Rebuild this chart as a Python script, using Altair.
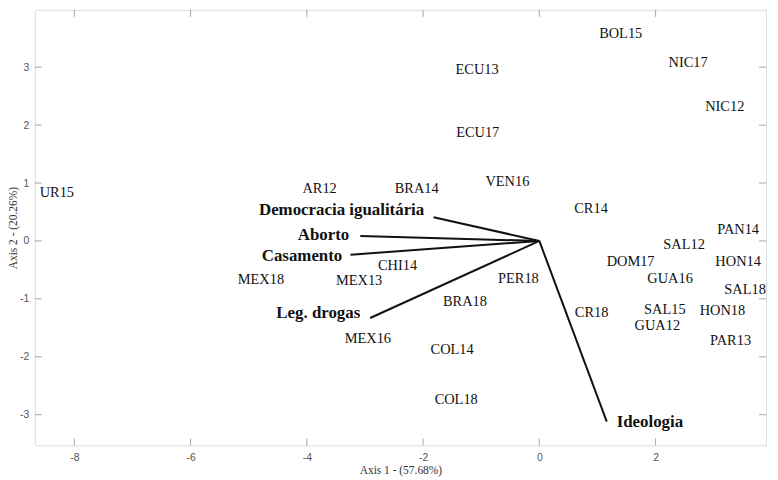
import altair as alt
import pandas as pd

# Country-year scores (Axis 1, Axis 2)
countries = ["UR15", "AR12", "BRA14", "VEN16", "ECU13", "ECU17", "BOL15", "NIC17", "NIC12",
             "CR14", "PAN14", "SAL12", "HON14", "DOM17", "GUA16", "SAL18", "CR18", "SAL15",
             "HON18", "GUA12", "PAR13", "PER18", "BRA18", "CHI14", "MEX13", "MEX18", "MEX16",
             "COL14", "COL18"]
axis1 = [-8.30, -3.78, -2.11, -0.55, -1.07, -1.06, 1.40, 2.56, 3.19,
         0.89, 3.42, 2.49, 3.42, 1.57, 2.25, 3.54, 0.90, 2.16,
         3.15, 2.03, 3.29, -0.36, -1.28, -2.44, -3.10, -4.79, -2.95,
         -1.50, -1.43]
axis2 = [0.82, 0.90, 0.90, 1.01, 2.95, 1.87, 3.58, 3.08, 2.32,
         0.55, 0.19, -0.07, -0.36, -0.37, -0.66, -0.85, -1.24, -1.19,
         -1.21, -1.47, -1.72, -0.65, -1.06, -0.43, -0.70, -0.68, -1.70,
         -1.89, -2.74]

# Variable loadings (vector ends)
variables = ["Democracia igualitária", "Aborto", "Casamento", "Leg. drogas", "Ideologia"]
load1 = [-1.82, -3.08, -3.25, -2.91, 1.16]
load2 = [0.41, 0.085, -0.24, -1.33, -3.12]
# Variable label anchors
lab1 = [-1.98, -3.27, -3.39, -3.08, 1.33]
lab2 = [0.53, 0.10, -0.26, -1.24, -3.12]
lab_align = ["right", "right", "right", "right", "left"]

x_ticks = [-8, -6, -4, -2, 0, 2]
y_ticks = [-3, -2, -1, 0, 1, 2, 3]

x_domain = [-8.68, 3.90]
y_domain = [-3.53, 3.99]

W, H = 737, 439
FRAME = "#a6a6a6"
TL = 7

pts = pd.DataFrame({"name": countries, "a1": axis1, "a2": axis2})
vec = pd.DataFrame({"var": variables, "x0": [0.0] * 5, "y0": [0.0] * 5,
                    "x1": load1, "y1": load2, "lx": lab1, "ly": lab2, "al": lab_align})
xt = pd.DataFrame({"v": x_ticks})
yt = pd.DataFrame({"v": y_ticks})

xs = alt.Scale(domain=x_domain, nice=False, zero=False)
ys = alt.Scale(domain=y_domain, nice=False, zero=False)

x_axis = alt.Axis(values=x_ticks, labelExpr="datum.value + ''", ticks=False, domain=False,
                  grid=False, labelFont="Liberation Sans", labelFontSize=10.5,
                  labelColor="#555555", labelPadding=7, title="Axis 1 - (57.68%)",
                  titleFont="Liberation Serif", titleFontSize=11.5, titleFontWeight="normal",
                  titleColor="#333333", titleY=25, titleBaseline="middle")
y_axis = alt.Axis(values=y_ticks, labelExpr="datum.value + ''", ticks=False, domain=False,
                  grid=False, labelFont="Liberation Sans", labelFontSize=10.5,
                  labelColor="#555555", labelPadding=6, title="Axis 2 - (20.26%)",
                  titleFont="Liberation Serif", titleFontSize=11.5, titleFontWeight="normal",
                  titleColor="#333333", titleX=-16)

base_pts = alt.Chart(pts).mark_text(font="Liberation Serif", fontSize=14.5, color="#111111",
                                    align="center", baseline="middle").encode(
    x=alt.X("a1:Q", scale=xs, axis=x_axis),
    y=alt.Y("a2:Q", scale=ys, axis=y_axis),
    text="name:N",
)

lines = alt.Chart(vec).mark_rule(color="#111111", strokeWidth=2).encode(
    x=alt.X("x0:Q", scale=xs), y=alt.Y("y0:Q", scale=ys),
    x2="x1:Q", y2="y1:Q",
)

vec_right = alt.Chart(vec).transform_filter(alt.datum.al == "right").mark_text(
    font="Liberation Serif", fontSize=17, fontWeight="bold", color="#111111",
    align="right", baseline="middle").encode(
    x=alt.X("lx:Q", scale=xs), y=alt.Y("ly:Q", scale=ys), text="var:N")

vec_left = alt.Chart(vec).transform_filter(alt.datum.al == "left").mark_text(
    font="Liberation Serif", fontSize=17, fontWeight="bold", color="#111111",
    align="left", baseline="middle").encode(
    x=alt.X("lx:Q", scale=xs), y=alt.Y("ly:Q", scale=ys), text="var:N")

tick_style = dict(color=FRAME, strokeWidth=1)
bt = alt.Chart(xt).mark_rule(**tick_style).encode(
    x=alt.X("v:Q", scale=xs), y=alt.value(H), y2=alt.value(H - TL))
tt = alt.Chart(xt).mark_rule(**tick_style).encode(
    x=alt.X("v:Q", scale=xs), y=alt.value(0), y2=alt.value(TL))
lt = alt.Chart(yt).mark_rule(**tick_style).encode(
    y=alt.Y("v:Q", scale=ys), x=alt.value(0), x2=alt.value(TL))
rt = alt.Chart(yt).mark_rule(**tick_style).encode(
    y=alt.Y("v:Q", scale=ys), x=alt.value(W), x2=alt.value(W - TL))

chart = alt.layer(bt, tt, lt, rt, lines, base_pts, vec_right, vec_left).properties(
    width=W, height=H,
    autosize=alt.AutoSizeParams(type="none"),
    padding={"left": 27, "top": 0, "right": 4, "bottom": 33},
).configure_view(stroke=FRAME, strokeWidth=1.2).configure(background="white")

chart.save("out.html", embed_options={"renderer": "svg", "actions": False})
